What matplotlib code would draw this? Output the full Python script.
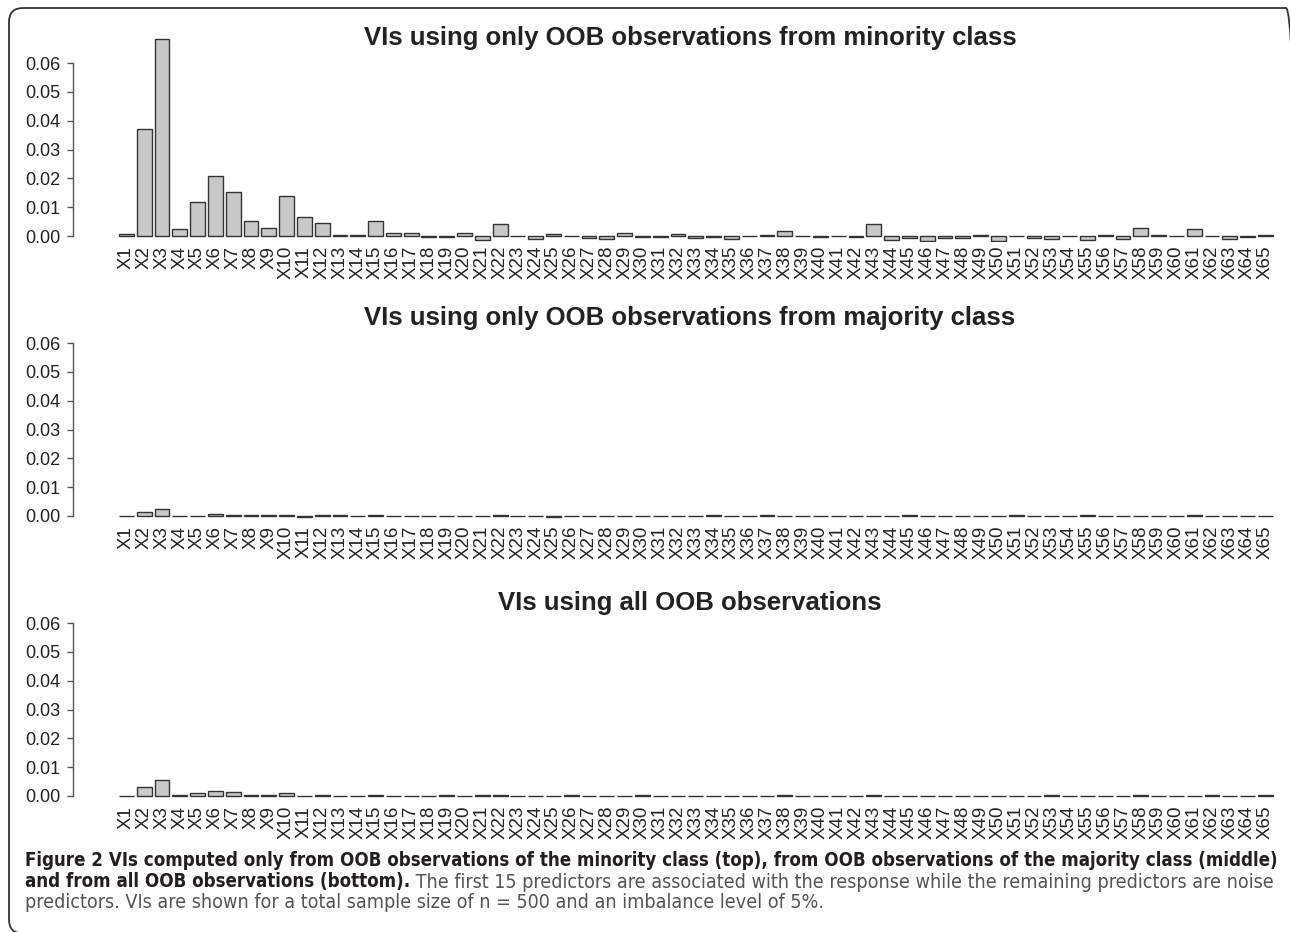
import matplotlib
matplotlib.use("Agg")
import matplotlib.pyplot as plt
from matplotlib.patches import FancyBboxPatch
from matplotlib.transforms import Affine2D

# predictor names
names = ["X%d" % i for i in range(1, 66)]

# VIs, minority class OOB only (top)
vi_minority = [
    0.0006, 0.0371, 0.0684, 0.0023, 0.0117, 0.0209, 0.0153, 0.0053, 0.0029, 0.0139,
    0.0067, 0.0045, 0.0003, 0.0003, 0.0052, 0.0009, 0.0009, -0.0005, -0.0002, 0.0012,
    -0.0013, 0.0042, -0.0001, -0.0012, 0.0007, -0.0001, -0.0008, -0.0009, 0.0009, -0.0003,
    -0.0003, 0.0006, -0.0008, -0.0003, -0.0011, -0.0001, 0.0002, 0.0019, -0.0001, -0.0003,
    -0.0001, -0.0003, 0.0040, -0.0013, -0.0008, -0.0017, -0.0008, -0.0008, 0.0003, -0.0018,
    -0.0001, -0.0008, -0.0011, 0.0001, -0.0013, 0.0002, -0.0010, 0.0028, 0.0004, -0.0001,
    0.0023, -0.0001, -0.0009, -0.0002, 0.0004,
]

# VIs, majority class OOB only (middle)
vi_majority = [
    0.0001, 0.0013, 0.0024, 0.0001, 0.0001, 0.0008, 0.0003, 0.0002, 0.0004, 0.0004,
    -0.0002, 0.0003, 0.0002, 0.0001, 0.0002, 0.0001, 0.0001, 0.0001, 0.0001, 0.0001,
    0.0001, 0.0002, 0.0001, 0.0001, -0.0002, 0.0001, 0.0001, 0.0001, 0.0001, 0.0001,
    0.0001, 0.0001, 0.0001, 0.0002, 0.0001, 0.0001, 0.0002, 0.0001, 0.0001, 0.0001,
    0.0001, 0.0001, 0.0001, 0.0001, 0.0002, -0.0001, 0.0001, 0.0001, 0.0001, 0.0001,
    0.0002, 0.0001, 0.0001, 0.0001, 0.0002, 0.0001, -0.0001, 0.0001, 0.0001, 0.0001,
    0.0002, 0.0001, 0.0001, -0.0001, 0.0001,
]

# VIs, all OOB observations (bottom)
vi_all = [
    0.0001, 0.0030, 0.0054, 0.0003, 0.0009, 0.0018, 0.0013, 0.0003, 0.0004, 0.0012,
    0.0001, 0.0004, 0.0001, 0.0001, 0.0004, 0.0001, 0.0001, 0.0001, 0.0002, 0.0001,
    0.0002, 0.0002, 0.0001, 0.0001, 0.0001, 0.0002, 0.0001, 0.0001, 0.0001, 0.0002,
    0.0001, 0.0001, 0.0001, 0.0001, 0.0001, 0.0001, 0.0001, 0.0003, 0.0001, 0.0001,
    0.0001, 0.0001, 0.0004, 0.0001, 0.0001, 0.0001, 0.0001, 0.0001, 0.0001, 0.0001,
    0.0001, 0.0001, 0.0002, 0.0001, 0.0001, 0.0001, 0.0001, 0.0003, 0.0001, 0.0001,
    0.0001, 0.0002, 0.0001, 0.0001, 0.0002,
]

titles = [
    "VIs using only OOB observations from minority class",
    "VIs using only OOB observations from majority class",
    "VIs using all OOB observations",
]
yticks = [0.00, 0.01, 0.02, 0.03, 0.04, 0.05, 0.06]

cap_bold1 = ("Figure 2 VIs computed only from OOB observations of the minority class (top), "
             "from OOB observations of the majority class (middle)")
cap_bold2 = "and from all OOB observations (bottom)."
cap_reg2 = " The first 15 predictors are associated with the response while the remaining predictors are noise"
cap_reg3 = "predictors. VIs are shown for a total sample size of n = 500 and an imbalance level of 5%."

W, H = 1290, 932
fig = plt.figure(figsize=(W / 100, H / 100), dpi=100)
plt.rcParams['font.family'] = ['Liberation Sans', 'DejaVu Sans']

# pixel helpers (y measured from top)
def fx(px):
    return px / W

def fy(py):
    return 1 - py / H

pos = [0.2 + 1.2 * i + 0.5 for i in range(len(names))]
ppu = 14.83          # pixels per x unit
x0_px = 116          # pixel of x = 0
ax_left, ax_right = 73, 1285
xlim = ((ax_left - x0_px) / ppu, (ax_right - x0_px) / ppu)

yppu = (236 - 63) / 0.06   # pixels per y unit
ylo, yhi = -0.002, 0.0695
zero_px = [236, 516, 796]
title_px = [38, 318, 603]

for k, vals in enumerate([vi_minority, vi_majority, vi_all]):
    top = zero_px[k] - yhi * yppu
    bot = zero_px[k] - ylo * yppu
    ax = fig.add_axes([fx(ax_left), fy(bot), fx(ax_right - ax_left), (bot - top) / H])
    ax.patch.set_alpha(0)
    ax.bar(pos, vals, width=1.0, color='#c8c8c8', edgecolor='#333333', linewidth=1.0)
    ax.set_xlim(*xlim)
    ax.set_ylim(ylo, yhi)
    for s in ['top', 'right', 'bottom']:
        ax.spines[s].set_visible(False)
    ax.spines['left'].set_bounds(0, 0.06)
    ax.spines['left'].set_color('#555555')
    ax.spines['left'].set_linewidth(1.0)
    ax.set_yticks(yticks)
    ax.set_yticklabels(["%.2f" % t for t in yticks], fontsize=13, color='#222222')
    ax.tick_params(axis='y', length=4, width=1.0, color='#555555', pad=5)
    ax.set_xticks(pos)
    ax.set_xticklabels(names, rotation=90, fontsize=13.5, color='#222222')
    ax.tick_params(axis='x', length=0, pad=3)
    fig.text(fx(690), fy(title_px[k]), titles[k], ha='center', va='center',
             fontsize=18.5, fontweight='bold', color='#222222')

# rounded frame in pixel coordinates (right and bottom edges fall just outside)
pix = Affine2D().scale(1.0 / W, 1.0 / H) + fig.transFigure
frame = FancyBboxPatch((9, -1.5), 1300 - 9, (H - 8) + 1.5,
                       boxstyle="round,pad=0,rounding_size=14",
                       transform=pix, fill=False,
                       edgecolor='#333333', linewidth=1.3, clip_on=False)
fig.patches.append(frame)

# caption
cap_kw = dict(family=['DejaVu Sans'], fontstretch='condensed')
r = fig.canvas.get_renderer()
t1 = fig.text(fx(25), fy(860), cap_bold1, ha='left', va='center', fontsize=13,
              fontweight='bold', color='#231f20', **cap_kw)
t1.set_fontsize(13 * (1282 - 25) / t1.get_window_extent(r).width)
fs_cap = t1.get_fontsize()
t2 = fig.text(fx(25), fy(882), cap_bold2, ha='left', va='center', fontsize=fs_cap,
              fontweight='bold', color='#231f20', **cap_kw)
bb2 = t2.get_window_extent(r)
t3 = fig.text(bb2.x1 / W, fy(882), cap_reg2, ha='left', va='center', fontsize=fs_cap,
              color='#555555', **cap_kw)
fs_reg = fs_cap * (1270 - bb2.x1) / t3.get_window_extent(r).width
t3.set_fontsize(fs_reg)
fig.text(fx(25), fy(903), cap_reg3, ha='left', va='center', fontsize=fs_reg,
         color='#555555', **cap_kw)

fig.savefig('out.png', dpi=100)
